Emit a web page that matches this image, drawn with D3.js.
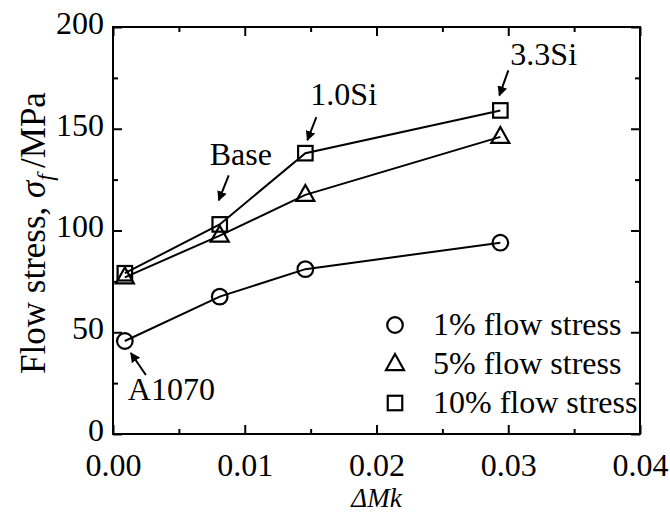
<!DOCTYPE html>
<html>
<head>
<meta charset="utf-8">
<script src="https://cdn.jsdelivr.net/npm/d3@7"></script>
<style>
  html, body { margin: 0; padding: 0; background: #fff; }
  svg { display: block; }
  text { font-family: "Liberation Serif", "Times New Roman", serif; fill: #000; }
</style>
</head>
<body>
<svg id="chart" width="670" height="515"></svg>
<script>
// ΔMk for each alloy (A1070, Base, 1.0Si, 3.3Si)
const deltaMk = [0.0009, 0.0081, 0.0146, 0.0294];
// Flow stress (MPa) at 1 %, 5 % and 10 % strain
const stress1 = [45.7, 67.5, 81, 94];
const stress5 = [77, 97.5, 117.5, 146];
const stress10 = [79, 103, 138, 159];
const seriesNames = ["1% flow stress", "5% flow stress", "10% flow stress"];
const seriesSymbols = ["circle", "triangle", "square"];
// Alloy labels and the point each one points at (index into deltaMk)
const alloyLabels = ["A1070", "Base", "1.0Si", "3.3Si"];
const alloyPoint = [0, 1, 2, 3];
// Axis ticks
const xTicks = [0, 0.01, 0.02, 0.03, 0.04];
const xMinor = [0.005, 0.015, 0.025, 0.035];
const yTicks = [0, 50, 100, 150, 200];
const yMinor = [25, 75, 125, 175];

const svg = d3.select("#chart");
const M = { left: 113, right: 640, top: 27, bottom: 434 };
const x = d3.scaleLinear().domain([0, 0.04]).range([M.left, M.right]);
const y = d3.scaleLinear().domain([0, 200]).range([M.bottom, M.top]);
const FONT = 32;

// Marker shapes drawn as outlines
function marker(sel, type, cx, cy) {
  if (type === "circle") {
    sel.append("circle").attr("cx", cx).attr("cy", cy).attr("r", 7.8);
  } else if (type === "square") {
    const s = 14.5;
    sel.append("rect").attr("x", cx - s / 2).attr("y", cy - s / 2).attr("width", s).attr("height", s);
  } else {
    const w = 18, h = 16;
    sel.append("path").attr("d",
      `M${cx},${cy - h * 0.62}L${cx + w / 2},${cy + h * 0.38}L${cx - w / 2},${cy + h * 0.38}Z`);
  }
}

// Axes with inward ticks on all four sides
function styleAxis(g) {
  g.select(".domain").remove();
  g.attr("font-family", null);
  g.selectAll("line").attr("stroke", "#000").attr("stroke-width", 2);
}
const axes = svg.append("g");
axes.append("g").attr("transform", `translate(0,${M.bottom})`)
  .call(d3.axisBottom(x).tickValues(xTicks).tickSize(-9).tickFormat(d3.format(".2f")))
  .call(styleAxis)
  .call(g => g.selectAll("text").attr("y", 42).attr("dy", null)
    .style("font-size", FONT + "px"));
axes.append("g").attr("transform", `translate(0,${M.bottom})`)
  .call(d3.axisBottom(x).tickValues(xMinor).tickSize(-5).tickFormat(""))
  .call(styleAxis);
axes.append("g").attr("transform", `translate(0,${M.top})`)
  .call(d3.axisTop(x).tickValues(xTicks).tickSize(-9).tickFormat(""))
  .call(styleAxis);
axes.append("g").attr("transform", `translate(0,${M.top})`)
  .call(d3.axisTop(x).tickValues(xMinor).tickSize(-5).tickFormat(""))
  .call(styleAxis);
axes.append("g").attr("transform", `translate(${M.left},0)`)
  .call(d3.axisLeft(y).tickValues(yTicks).tickSize(-9))
  .call(styleAxis)
  .call(g => g.selectAll("text").attr("x", -9).attr("dy", "0.2em")
    .style("font-size", FONT + "px"));
axes.append("g").attr("transform", `translate(${M.left},0)`)
  .call(d3.axisLeft(y).tickValues(yMinor).tickSize(-5).tickFormat(""))
  .call(styleAxis);
axes.append("g").attr("transform", `translate(${M.right},0)`)
  .call(d3.axisRight(y).tickValues(yTicks).tickSize(-9).tickFormat(""))
  .call(styleAxis);
axes.append("g").attr("transform", `translate(${M.right},0)`)
  .call(d3.axisRight(y).tickValues(yMinor).tickSize(-5).tickFormat(""))
  .call(styleAxis);

// Plot frame
svg.append("rect").attr("x", M.left).attr("y", M.top)
  .attr("width", M.right - M.left).attr("height", M.bottom - M.top)
  .attr("fill", "none").attr("stroke", "#000").attr("stroke-width", 2);

// Series lines and markers
const allSeries = [stress1, stress5, stress10];
const line = d3.line().x((d, i) => x(deltaMk[i])).y(d => y(d));
allSeries.forEach((vals, si) => {
  svg.append("path").datum(vals).attr("d", line)
    .attr("fill", "none").attr("stroke", "#000").attr("stroke-width", 2);
  const g = svg.append("g").attr("fill", "none").attr("stroke", "#000").attr("stroke-width", 2.2);
  vals.forEach((v, i) => marker(g, seriesSymbols[si], x(deltaMk[i]), y(v)));
});

// Alloy annotations with arrows; A1070 points at the 1 % curve from below,
// the others at the 10 % curve from above
svg.append("defs").append("marker")
  .attr("id", "head").attr("viewBox", "0 0 10 10").attr("refX", 9).attr("refY", 5)
  .attr("markerWidth", 5).attr("markerHeight", 5).attr("orient", "auto")
  .append("path").attr("d", "M0,0L10,5L0,10Z").attr("fill", "#000");
const annot = [
  { tip: [6, 12], tail: [21, 34], text: [3, 59] },     // A1070
  { tip: [-1, -24], tail: [9, -49], text: [-10, -59] }, // Base
  { tip: [2, -13], tail: [11, -36], text: [5, -48] },   // 1.0Si
  { tip: [-1, -15], tail: [8, -40], text: [10, -45] }   // 3.3Si
];
alloyLabels.forEach((lab, k) => {
  const i = alloyPoint[k];
  const src = k === 0 ? stress1 : stress10;
  const px = x(deltaMk[i]), py = y(src[i]);
  const a = annot[k];
  svg.append("line")
    .attr("x1", px + a.tail[0]).attr("y1", py + a.tail[1])
    .attr("x2", px + a.tip[0]).attr("y2", py + a.tip[1])
    .attr("stroke", "#000").attr("stroke-width", 2).attr("marker-end", "url(#head)");
  svg.append("text").attr("x", px + a.text[0]).attr("y", py + a.text[1])
    .style("font-size", FONT + "px").text(lab);
});

// Legend
const legend = svg.append("g");
seriesNames.forEach((name, si) => {
  const ly = 325 + si * 39;
  const g = legend.append("g").attr("fill", "none").attr("stroke", "#000").attr("stroke-width", 2.2);
  marker(g, seriesSymbols[si], 395, ly);
  legend.append("text").attr("x", 433).attr("y", ly + 10)
    .style("font-size", FONT + "px").text(name);
});

// Axis titles
const yTitle = svg.append("text")
  .attr("transform", `translate(45,233) rotate(-90)`)
  .attr("text-anchor", "middle").style("font-size", "35px");
yTitle.append("tspan").text("Flow stress, ");
yTitle.append("tspan").style("font-style", "italic").text("σ");
yTitle.append("tspan").style("font-style", "italic").style("font-size", "24px")
  .attr("dy", 8).text("f");
yTitle.append("tspan").attr("dy", -8).attr("dx", 6).text("/MPa");

svg.append("text").attr("x", (M.left + M.right) / 2).attr("y", 507)
  .attr("text-anchor", "middle").style("font-size", "27px").style("font-style", "italic")
  .text("ΔMk");
</script>
</body>
</html>
